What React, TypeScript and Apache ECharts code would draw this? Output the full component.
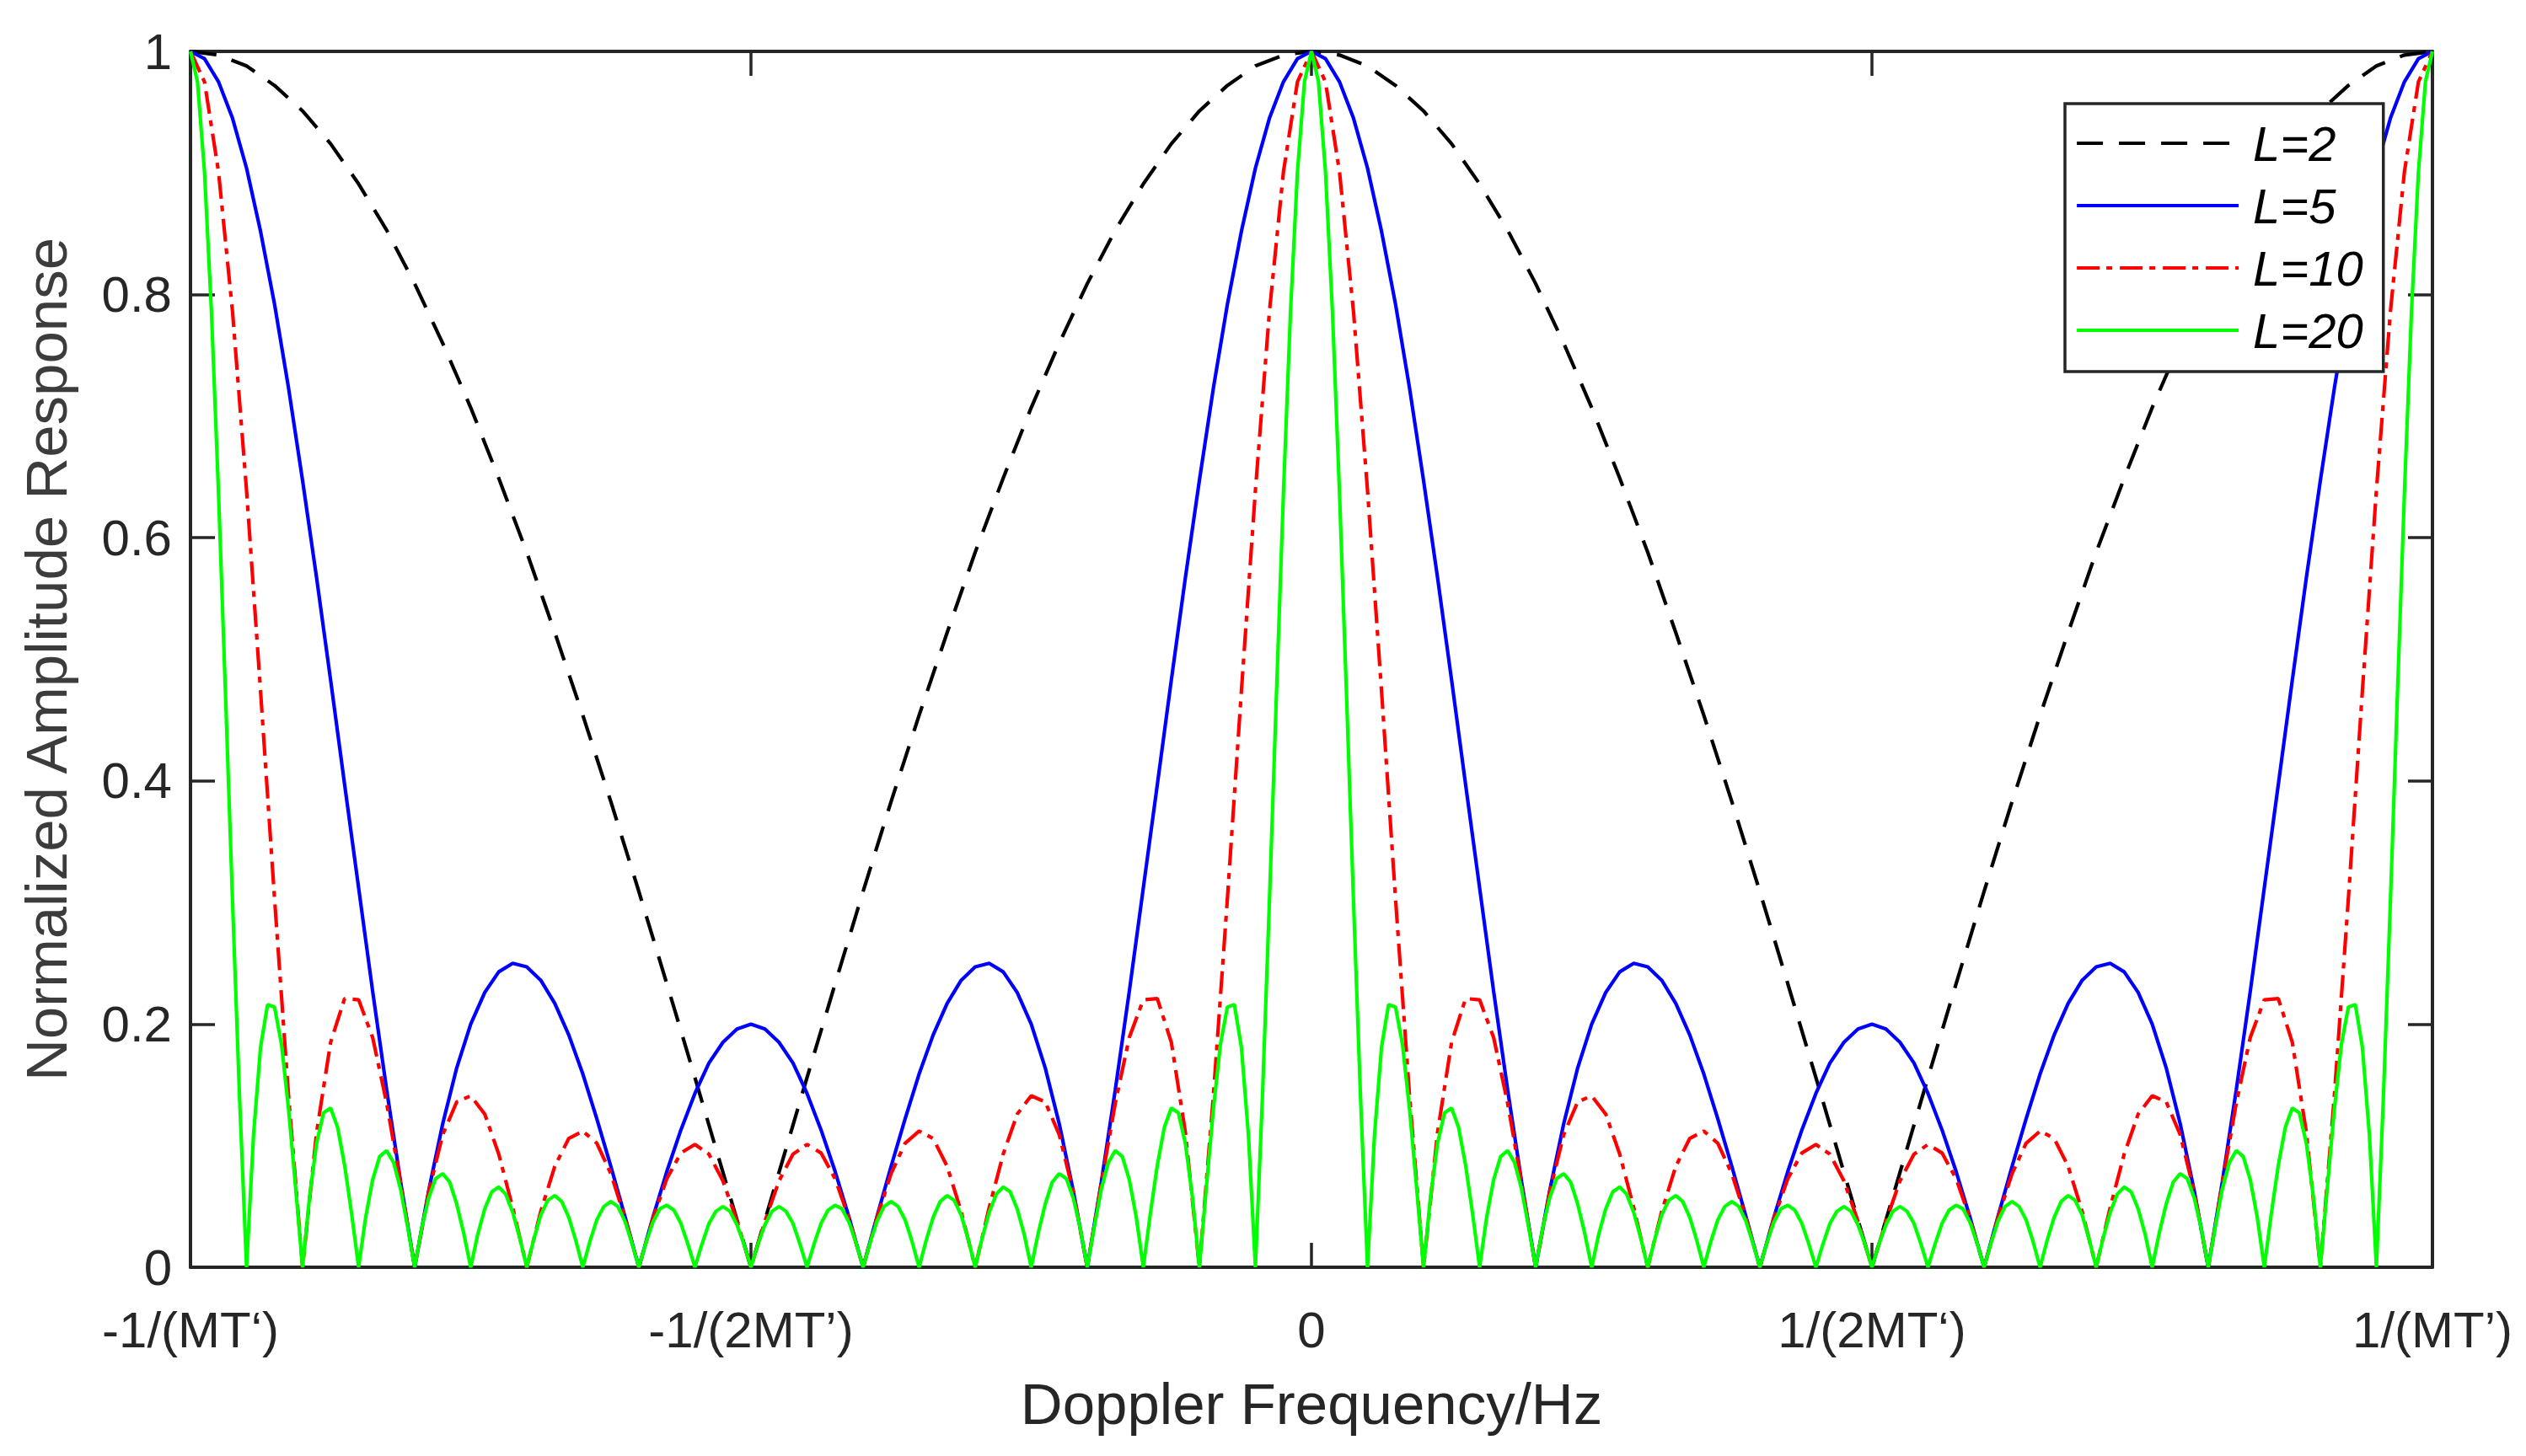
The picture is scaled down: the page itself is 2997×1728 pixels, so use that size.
import React, { useEffect, useRef } from "react";
import * as echarts from "echarts";

// ---- data ----
const seriesNames = ["L=2", "L=5", "L=10", "L=20"];
const seriesColors = ["#000000", "#0000ff", "#ff0000", "#00ff00"];
const xTickValues = [-1, -0.5, 0, 0.5, 1];
const xTickLabels = ["-1/(MT\u2018)", "-1/(2MT\u2019)", "0", "1/(2MT\u2018)", "1/(MT\u2019)"];
const freqStart = -1;

// L=2, samples every 0.025 from -1 to 1
const stepL2 = 0.025;
const yL2 = [
  1, 0.997, 0.988, 0.972, 0.951, 0.924, 0.891, 0.853, 0.809, 0.760, 0.707, 0.649, 0.588, 0.522, 0.454, 0.383, 0.309, 0.233, 0.156, 0.078, 0,
  0.078, 0.156, 0.233, 0.309, 0.383, 0.454, 0.522, 0.588, 0.649, 0.707, 0.760, 0.809, 0.853, 0.891, 0.924, 0.951, 0.972, 0.988, 0.997, 1,
  0.997, 0.988, 0.972, 0.951, 0.924, 0.891, 0.853, 0.809, 0.760, 0.707, 0.649, 0.588, 0.522, 0.454, 0.383, 0.309, 0.233, 0.156, 0.078, 0,
  0.078, 0.156, 0.233, 0.309, 0.383, 0.454, 0.522, 0.588, 0.649, 0.707, 0.760, 0.809, 0.853, 0.891, 0.924, 0.951, 0.972, 0.988, 0.997, 1,
];

// L=5, samples every 0.0125 from -1 to 1
const stepL5 = 0.0125;
const yL5 = [
  1, 0.994, 0.975, 0.945, 0.904, 0.852, 0.792, 0.723, 0.647, 0.567, 0.483, 0.397, 0.312, 0.227, 0.146, 0.070, 0,
  0.063, 0.118, 0.164, 0.200, 0.226, 0.243, 0.250, 0.247, 0.236, 0.217, 0.191, 0.159, 0.122, 0.083, 0.042, 0,
  0.041, 0.079, 0.113, 0.143, 0.168, 0.185, 0.196, 0.200,
  0.196, 0.185, 0.168, 0.143, 0.113, 0.079, 0.041, 0,
  0.042, 0.083, 0.122, 0.159, 0.191, 0.217, 0.236, 0.247, 0.250, 0.243, 0.226, 0.200, 0.164, 0.118, 0.063, 0,
  0.070, 0.146, 0.227, 0.312, 0.397, 0.483, 0.567, 0.647, 0.723, 0.792, 0.852, 0.904, 0.945, 0.975, 0.994, 1,
  0.994, 0.975, 0.945, 0.904, 0.852, 0.792, 0.723, 0.647, 0.567, 0.483, 0.397, 0.312, 0.227, 0.146, 0.070, 0,
  0.063, 0.118, 0.164, 0.200, 0.226, 0.243, 0.250, 0.247, 0.236, 0.217, 0.191, 0.159, 0.122, 0.083, 0.042, 0,
  0.041, 0.079, 0.113, 0.143, 0.168, 0.185, 0.196, 0.200,
  0.196, 0.185, 0.168, 0.143, 0.113, 0.079, 0.041, 0,
  0.042, 0.083, 0.122, 0.159, 0.191, 0.217, 0.236, 0.247, 0.250, 0.243, 0.226, 0.200, 0.164, 0.118, 0.063, 0,
  0.070, 0.146, 0.227, 0.312, 0.397, 0.483, 0.567, 0.647, 0.723, 0.792, 0.852, 0.904, 0.945, 0.975, 0.994, 1,
];

// L=10, samples every 0.0125 from -1 to 1
const stepL10 = 0.0125;
const yL10 = [
  1, 0.975, 0.901, 0.786, 0.639, 0.474, 0.303, 0.141, 0,
  0.111, 0.185, 0.221, 0.220, 0.189, 0.135, 0.069, 0,
  0.062, 0.109, 0.136, 0.141, 0.126, 0.093, 0.049, 0,
  0.046, 0.083, 0.106, 0.112, 0.102, 0.077, 0.041, 0,
  0.040, 0.073, 0.094, 0.101, 0.093, 0.071, 0.038, 0,
  0.038, 0.071, 0.093, 0.101, 0.094, 0.073, 0.040, 0,
  0.041, 0.077, 0.102, 0.112, 0.106, 0.083, 0.046, 0,
  0.049, 0.093, 0.126, 0.141, 0.136, 0.109, 0.062, 0,
  0.069, 0.135, 0.189, 0.220, 0.221, 0.185, 0.111, 0,
  0.141, 0.303, 0.474, 0.639, 0.786, 0.901, 0.975, 1,
  0.975, 0.901, 0.786, 0.639, 0.474, 0.303, 0.141, 0,
  0.111, 0.185, 0.221, 0.220, 0.189, 0.135, 0.069, 0,
  0.062, 0.109, 0.136, 0.141, 0.126, 0.093, 0.049, 0,
  0.046, 0.083, 0.106, 0.112, 0.102, 0.077, 0.041, 0,
  0.040, 0.073, 0.094, 0.101, 0.093, 0.071, 0.038, 0,
  0.038, 0.071, 0.093, 0.101, 0.094, 0.073, 0.040, 0,
  0.041, 0.077, 0.102, 0.112, 0.106, 0.083, 0.046, 0,
  0.049, 0.093, 0.126, 0.141, 0.136, 0.109, 0.062, 0,
  0.069, 0.135, 0.189, 0.220, 0.221, 0.185, 0.111, 0,
  0.141, 0.303, 0.474, 0.639, 0.786, 0.901, 0.975, 1,
];

// L=20, samples every 0.00625 from -1 to 1
const stepL20 = 0.00625;
const yL20 = [
  1, 0.975, 0.901, 0.785, 0.637, 0.471, 0.301, 0.140, 0,
  0.109, 0.181, 0.216, 0.214, 0.183, 0.130, 0.066, 0,
  0.058, 0.102, 0.127, 0.131, 0.115, 0.084, 0.044, 0,
  0.041, 0.072, 0.091, 0.096, 0.086, 0.064, 0.033, 0,
  0.032, 0.057, 0.073, 0.077, 0.070, 0.052, 0.028, 0,
  0.027, 0.048, 0.062, 0.066, 0.060, 0.045, 0.024, 0,
  0.023, 0.043, 0.055, 0.059, 0.054, 0.041, 0.022, 0,
  0.021, 0.039, 0.050, 0.054, 0.050, 0.038, 0.020, 0,
  0.020, 0.037, 0.048, 0.051, 0.047, 0.036, 0.019, 0,
  0.019, 0.036, 0.046, 0.050, 0.046, 0.035, 0.019, 0,
  0.019, 0.035, 0.046, 0.050, 0.046, 0.036, 0.019, 0,
  0.019, 0.036, 0.047, 0.051, 0.048, 0.037, 0.020, 0,
  0.020, 0.038, 0.050, 0.054, 0.050, 0.039, 0.021, 0,
  0.022, 0.041, 0.054, 0.059, 0.055, 0.043, 0.023, 0,
  0.024, 0.045, 0.060, 0.066, 0.062, 0.048, 0.027, 0,
  0.028, 0.052, 0.070, 0.077, 0.073, 0.057, 0.032, 0,
  0.033, 0.064, 0.086, 0.096, 0.091, 0.072, 0.041, 0,
  0.044, 0.084, 0.115, 0.131, 0.127, 0.102, 0.058, 0,
  0.066, 0.130, 0.183, 0.214, 0.216, 0.181, 0.109, 0,
  0.140, 0.301, 0.471, 0.637, 0.785, 0.901, 0.975, 1,
  0.975, 0.901, 0.785, 0.637, 0.471, 0.301, 0.140, 0,
  0.109, 0.181, 0.216, 0.214, 0.183, 0.130, 0.066, 0,
  0.058, 0.102, 0.127, 0.131, 0.115, 0.084, 0.044, 0,
  0.041, 0.072, 0.091, 0.096, 0.086, 0.064, 0.033, 0,
  0.032, 0.057, 0.073, 0.077, 0.070, 0.052, 0.028, 0,
  0.027, 0.048, 0.062, 0.066, 0.060, 0.045, 0.024, 0,
  0.023, 0.043, 0.055, 0.059, 0.054, 0.041, 0.022, 0,
  0.021, 0.039, 0.050, 0.054, 0.050, 0.038, 0.020, 0,
  0.020, 0.037, 0.048, 0.051, 0.047, 0.036, 0.019, 0,
  0.019, 0.036, 0.046, 0.050, 0.046, 0.035, 0.019, 0,
  0.019, 0.035, 0.046, 0.050, 0.046, 0.036, 0.019, 0,
  0.019, 0.036, 0.047, 0.051, 0.048, 0.037, 0.020, 0,
  0.020, 0.038, 0.050, 0.054, 0.050, 0.039, 0.021, 0,
  0.022, 0.041, 0.054, 0.059, 0.055, 0.043, 0.023, 0,
  0.024, 0.045, 0.060, 0.066, 0.062, 0.048, 0.027, 0,
  0.028, 0.052, 0.070, 0.077, 0.073, 0.057, 0.032, 0,
  0.033, 0.064, 0.086, 0.096, 0.091, 0.072, 0.041, 0,
  0.044, 0.084, 0.115, 0.131, 0.127, 0.102, 0.058, 0,
  0.066, 0.130, 0.183, 0.214, 0.216, 0.181, 0.109, 0,
  0.140, 0.301, 0.471, 0.637, 0.785, 0.901, 0.975, 1,
];

const seriesValues = [yL2, yL5, yL10, yL20];
const seriesSteps = [stepL2, stepL5, stepL10, stepL20];

// ---- styles ----
const FONT = "'Liberation Sans', Arial, Helvetica, sans-serif";
const AXIS_COLOR = "#262626";
const LINE_WIDTH = 4.2;
const lineTypes: any[] = [[31, 19], "solid", [27, 8, 7, 9], "solid"];

function xLabel(v: number): string {
  for (let i = 0; i < xTickValues.length; i++) {
    if (Math.abs(xTickValues[i] - v) < 1e-6) return xTickLabels[i];
  }
  return "";
}

export default function App() {
  const ref = useRef<HTMLDivElement>(null);

  useEffect(() => {
    document.body.style.margin = "0";
    if (!ref.current) return;
    const chart = echarts.init(ref.current, undefined, { renderer: "svg" });

    const axisLine = { show: true, onZero: false, lineStyle: { color: AXIS_COLOR, width: 4 } };
    const axisTick = { show: true, inside: true, length: 29, lineStyle: { color: AXIS_COLOR, width: 3.5 } };

    const series = seriesNames.map((name, si) => ({
      name,
      type: "line",
      symbol: "none",
      showSymbol: false,
      silent: true,
      clip: true,
      z: 2 + si,
      lineStyle: { color: seriesColors[si], width: LINE_WIDTH, type: lineTypes[si] },
      itemStyle: { color: seriesColors[si] },
      emphasis: { disabled: true },
      data: seriesValues[si].map((y, i) => [freqStart + i * seriesSteps[si], y]),
    }));

    const option: any = {
      animation: false,
      backgroundColor: "#ffffff",
      grid: { left: 226, right: 111, top: 61, bottom: 224, containLabel: false },
      legend: {
        orient: "vertical",
        left: 2450,
        top: 123,
        itemWidth: 192,
        itemHeight: 20,
        itemGap: 14,
        padding: [17, 24, 19, 12],
        borderColor: AXIS_COLOR,
        borderWidth: 3.5,
        backgroundColor: "#ffffff",
        selectedMode: false,
        data: seriesNames,
        itemStyle: { opacity: 0, borderWidth: 0 },
        lineStyle: { width: LINE_WIDTH },
        textStyle: {
          fontFamily: FONT,
          fontSize: 58,
          fontStyle: "italic",
          color: "#000000",
          lineHeight: 60,
          padding: [0, 0, 0, 12],
        },
      },
      xAxis: [
        {
          type: "value",
          min: -1,
          max: 1,
          interval: 0.5,
          position: "bottom",
          name: "Doppler Frequency/Hz",
          nameLocation: "middle",
          nameGap: 128,
          nameTextStyle: { fontFamily: FONT, fontSize: 69, color: AXIS_COLOR },
          axisLine,
          axisTick,
          axisLabel: {
            margin: 44,
            fontFamily: FONT,
            fontSize: 60,
            color: AXIS_COLOR,
            showMinLabel: true,
            showMaxLabel: true,
            formatter: (v: number) => xLabel(v),
          },
          splitLine: { show: false },
        },
        {
          type: "value",
          min: -1,
          max: 1,
          interval: 0.5,
          position: "top",
          axisLine,
          axisTick,
          axisLabel: { show: false },
          splitLine: { show: false },
        },
      ],
      yAxis: [
        {
          type: "value",
          min: 0,
          max: 1,
          interval: 0.2,
          position: "left",
          name: "Normalized Amplitude Response",
          nameLocation: "middle",
          nameGap: 136,
          nameTextStyle: { fontFamily: FONT, fontSize: 69, color: "#3c3c3c" },
          axisLine,
          axisTick,
          axisLabel: { margin: 22, fontFamily: FONT, fontSize: 60, color: AXIS_COLOR },
          splitLine: { show: false },
        },
        {
          type: "value",
          min: 0,
          max: 1,
          interval: 0.2,
          position: "right",
          axisLine,
          axisTick,
          axisLabel: { show: false },
          splitLine: { show: false },
        },
      ],
      series,
    };

    chart.setOption(option);
    return () => chart.dispose();
  }, []);

  return <div ref={ref} style={{ width: 2997, height: 1728 }} />;
}
